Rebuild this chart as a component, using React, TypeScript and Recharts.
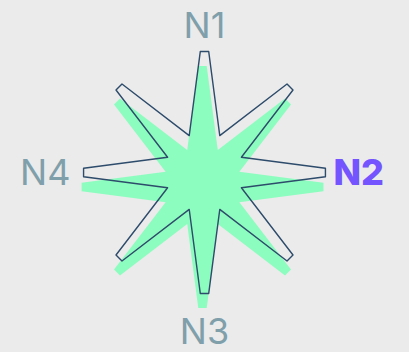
import { PolarAngleAxis, PolarRadiusAxis, Radar, RadarChart } from "recharts";

// star outline: vertex angle (deg, clockwise from N1) and radius value (0-100)
const vertexAngles = [
  2, 22.5, 43, 47, 67.5, 88, 92, 112.5, 133, 137, 157.5, 178,
  182, 202.5, 223, 227, 247.5, 268, 272, 292.5, 313, 317, 337.5, 358,
];
const vertexValues = [
  100, 33, 100, 100, 33, 100, 100, 33, 100, 100, 33, 100,
  100, 33, 100, 100, 33, 100, 100, 33, 100, 100, 33, 100,
];

const tickAngles = [0, 90, 180, 270];
const tickLabels = ["N1", "N2", "N3", "N4"];
const activeLabel = "N2";

const rows = vertexAngles.map((angle, i) => ({ angle, value: vertexValues[i] }));

const W = 409;
const H = 352;

function AngleTick(props: any) {
  const { x, y, payload } = props;
  const idx = tickAngles.indexOf(Number(payload?.value));
  if (idx < 0) return <g />;
  const label = tickLabels[idx];
  const active = label === activeLabel;
  // nudge each label off its axis end
  const a = tickAngles[idx];
  let dx = 0;
  let dy = 0;
  let anchor: "middle" | "start" | "end" = "middle";
  if (a === 0) dy = -6;
  else if (a === 180) dy = 42;
  else if (a === 90) {
    anchor = "start";
    dy = 12;
  } else {
    anchor = "end";
    dx = -5;
    dy = 12;
  }
  return (
    <text
      x={x + dx}
      y={y + dy}
      textAnchor={anchor}
      fontFamily="Inter, 'Noto Sans', sans-serif"
      fontSize={36}
      fontWeight={active ? 800 : 400}
      fill={active ? "#7354ff" : "#7f9fab"}
    >
      {label}
    </text>
  );
}

export default function App() {
  return (
    <div style={{ position: "absolute", left: 0, top: 0, width: W, height: H, background: "#ebebeb" }}>
      <div style={{ position: "absolute", left: 0, top: 0 }}>
        <RadarChart width={W} height={H} data={rows} cx={202.5} cy={187} outerRadius={121}>
          <PolarAngleAxis dataKey="angle" type="number" domain={[0, 360]} tick={false} tickLine={false} axisLine={false} />
          <PolarRadiusAxis domain={[0, 100]} tick={false} axisLine={false} />
          <Radar dataKey="value" fill="#8dfdbf" fillOpacity={1} stroke="none" isAnimationActive={false} />
        </RadarChart>
      </div>
      <div style={{ position: "absolute", left: 0, top: 0 }}>
        <RadarChart width={W} height={H} data={rows} cx={204.5} cy={172.5} outerRadius={121}>
          <PolarAngleAxis
            dataKey="angle"
            type="number"
            domain={[0, 360]}
            ticks={tickAngles as any}
            tick={AngleTick}
            tickLine={false}
            axisLine={false}
          />
          <PolarRadiusAxis domain={[0, 100]} tick={false} axisLine={false} />
          <Radar
            dataKey="value"
            fill="none"
            fillOpacity={0}
            stroke="#2d4b6b"
            strokeWidth={1.4}
            strokeLinejoin="round"
            isAnimationActive={false}
          />
        </RadarChart>
      </div>
    </div>
  );
}
